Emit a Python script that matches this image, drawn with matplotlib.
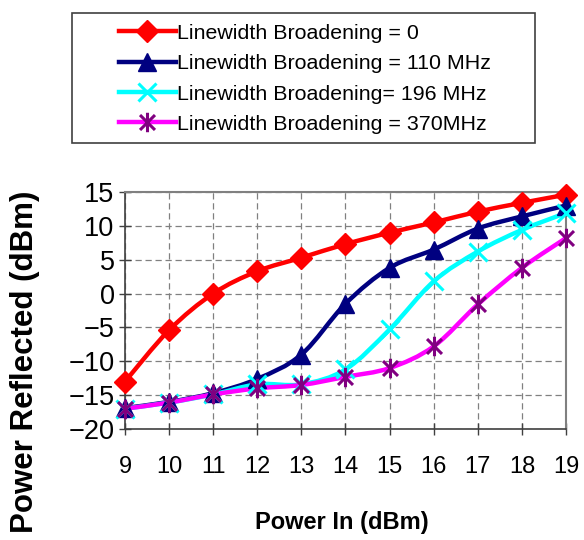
import matplotlib
matplotlib.use('Agg')
import matplotlib.pyplot as plt
from matplotlib.path import Path
from matplotlib.patches import PathPatch, Rectangle
from matplotlib.lines import Line2D

plt.rcParams['font.family'] = ['Liberation Sans', 'DejaVu Sans']

power_in = [9, 10, 11, 12, 13, 14, 15, 16, 17, 18, 19]
lb_0 = [-13.0, -5.4, 0.0, 3.3, 5.3, 7.3, 9.0, 10.5, 12.1, 13.4, 14.6]
lb_110 = [-16.9, -16.0, -14.7, -12.6, -9.0, -1.5, 3.8, 6.5, 9.6, 11.4, 13.0]
lb_196 = [-17.0, -16.1, -14.9, -13.4, -13.4, -11.2, -5.3, 1.8, 6.2, 9.4, 11.9]
lb_370 = [-17.0, -16.1, -14.9, -14.0, -13.5, -12.3, -11.0, -7.8, -1.6, 3.8, 8.2]
labels = ['Linewidth Broadening = 0', 'Linewidth Broadening = 110 MHz',
          'Linewidth Broadening= 196 MHz', 'Linewidth Broadening = 370MHz']

# asterisk marker like Excel's: an X with a vertical bar
asterisk = Path([(-1, -1), (1, 1), (-1, 1), (1, -1), (0, -1.3), (0, 1.3)],
                [Path.MOVETO, Path.LINETO, Path.MOVETO, Path.LINETO,
                 Path.MOVETO, Path.LINETO])

styles = [
    dict(color='#FF0000', marker='D', ms=11, mfc='#FF0000', mec='#FF0000', mew=1),
    dict(color='#000080', marker='^', ms=13, mfc='#000080', mec='#000080', mew=1),
    dict(color='#00FFFF', marker='x', ms=13, mfc='none', mec='#00FFFF', mew=2.2),
    dict(color='#FF00FF', marker=asterisk, ms=14, mfc='none', mec='#800080', mew=2.2),
]


def smooth_path(xs, ys):
    # Excel-style smoothed line: Catmull-Rom segments as cubic Beziers
    pts = list(zip(xs, ys))
    n = len(pts)
    verts = [pts[0]]
    codes = [Path.MOVETO]
    for i in range(n - 1):
        p0 = pts[i - 1] if i > 0 else pts[i]
        p1 = pts[i]
        p2 = pts[i + 1]
        p3 = pts[i + 2] if i + 2 < n else pts[i + 1]
        c1 = (p1[0] + (p2[0] - p0[0]) / 6, p1[1] + (p2[1] - p0[1]) / 6)
        c2 = (p2[0] - (p3[0] - p1[0]) / 6, p2[1] - (p3[1] - p1[1]) / 6)
        verts += [c1, c2, p2]
        codes += [Path.CURVE4] * 3
    return Path(verts, codes)


W, H = 584, 540
fig = plt.figure(figsize=(W / 100, H / 100), dpi=100)
ax = fig.add_axes([125 / W, 1 - 429 / H, (566 - 125) / W, (429 - 192) / H])

series = [lb_0, lb_110, lb_196, lb_370]
for ys, st in zip(series, styles):
    ax.add_patch(PathPatch(smooth_path(power_in, ys), fill=False,
                           edgecolor=st['color'], lw=3.2, zorder=3,
                           capstyle='round', joinstyle='round', clip_on=False))
    ax.plot(power_in, ys, ls='none', marker=st['marker'], ms=st['ms'],
            mfc=st['mfc'], mec=st['mec'], mew=st['mew'], zorder=4,
            clip_on=False)

ax.set_xlim(9, 19)
ax.set_ylim(-20, 15)
ax.set_xticks(power_in)
ax.set_yticks(range(-20, 16, 5))
ax.grid(True, color='#808080', ls=(0, (5, 3)), lw=0.9)
ax.set_axisbelow(True)
for s in ['top', 'right']:
    ax.spines[s].set_color('#808080')
    ax.spines[s].set_linewidth(1.5)
for s in ['left', 'bottom']:
    ax.spines[s].set_color('#404040')
    ax.spines[s].set_linewidth(1.2)
ax.tick_params(axis='both', direction='inout', length=9, width=1, color='#404040')
ax.tick_params(axis='x', labelsize=17, pad=15)
ax.tick_params(axis='y', labelsize=19.5, pad=3)

fig.text(342 / W, 1 - 523 / H, 'Power In (dBm)', ha='center', va='center',
         fontsize=17, fontweight='bold')
fig.text(25 / W, 1 - 362 / H, 'Power Reflected (dBm)', ha='center', va='center',
         rotation=90, fontsize=22.5, fontweight='bold')

# legend box
fig.patches.append(Rectangle((72 / W, 1 - 143 / H), (535 - 72) / W, (143 - 13) / H,
                             transform=fig.transFigure, fill=False,
                             edgecolor='#404040', lw=1.2))
handles = [Line2D([], [], color=st['color'], lw=3.2, marker=st['marker'],
                  ms=st['ms'], mfc=st['mfc'], mec=st['mec'], mew=st['mew'])
           for st in styles]
fig.legend(handles, labels, loc='upper left', frameon=False,
           bbox_to_anchor=(104 / W, 1 - 9 / H), fontsize=15.4,
           handlelength=2.65, handletextpad=0.05, labelspacing=0.53,
           borderpad=0.2, numpoints=1)

fig.savefig('out.png', dpi=100)
